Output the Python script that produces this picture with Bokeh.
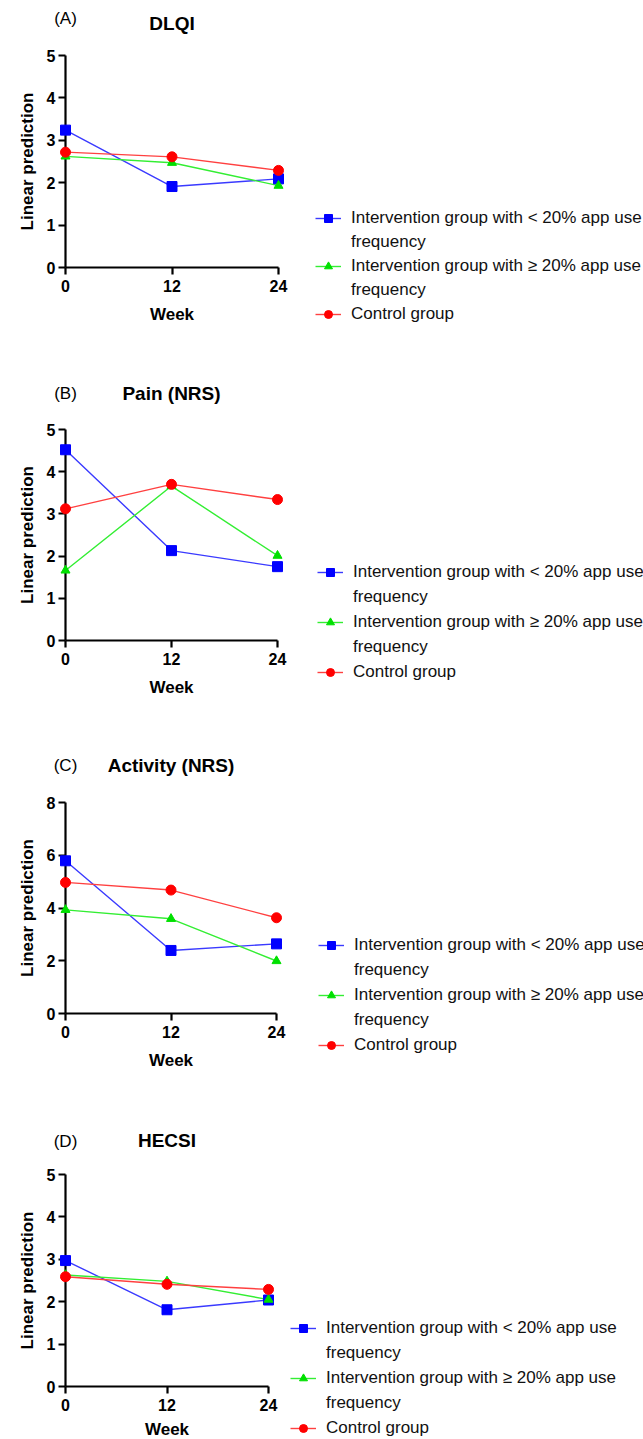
from bokeh.plotting import figure
from bokeh.models import Range1d, FixedTicker, Legend, LegendItem
from bokeh.core.properties import value
from bokeh.layouts import column
from bokeh.embed import file_html
from bokeh.resources import INLINE

weeks = [0, 12, 24]
x_ticks = [0, 12, 24]

series_names = [
    "Intervention group with < 20% app use\nfrequency",
    "Intervention group with \u2265 20% app use\nfrequency",
    "Control group",
]

panel_letters = ["(A)", "(B)", "(C)", "(D)"]
panel_titles = ["DLQI", "Pain (NRS)", "Activity (NRS)", "HECSI"]
y_max = [5, 5, 8, 5]
y_ticks = [[0, 1, 2, 3, 4, 5], [0, 1, 2, 3, 4, 5], [0, 2, 4, 6, 8], [0, 1, 2, 3, 4, 5]]

dlqi_low = [3.24, 1.91, 2.09]
dlqi_high = [2.62, 2.47, 1.93]
dlqi_ctrl = [2.72, 2.61, 2.29]

pain_low = [4.52, 2.13, 1.75]
pain_high = [1.66, 3.66, 2.01]
pain_ctrl = [3.12, 3.70, 3.34]

act_low = [5.79, 2.39, 2.64]
act_high = [3.93, 3.59, 1.99]
act_ctrl = [4.97, 4.68, 3.63]

hecsi_low = [2.97, 1.81, 2.04]
hecsi_high = [2.63, 2.48, 2.05]
hecsi_ctrl = [2.59, 2.41, 2.29]

panel_data = [
    (dlqi_low, dlqi_high, dlqi_ctrl),
    (pain_low, pain_high, pain_ctrl),
    (act_low, act_high, act_ctrl),
    (hecsi_low, hecsi_high, hecsi_ctrl),
]

colors = ["#0000FF", "#00E000", "#FF0000"]
line_colors = ["#3A3AFF", "#33EE33", "#FF4040"]
markers = ["square", "triangle", "circle"]
marker_sizes = [10, 9, 10]

FONT = "Liberation Sans"
FIG_W = 643
LEFT = 65

geom = [
    dict(fw=213, top=55, fh=212, h=340, lx=37, ly=-57, sp=4, toff=(37, 32), xls=10),
    dict(fw=212, top=89, fh=211, h=360, lx=40, ly=-42, sp=5, toff=(36, 36), xls=10),
    dict(fw=211, top=102, fh=211, h=380, lx=42, ly=-42, sp=5, toff=(37, 37), xls=10),
    dict(fw=203, top=94, fh=212, h=359, lx=22, ly=-52, sp=5, toff=(33, 34), xls=6),
]

figs = []
for i in range(4):
    g = geom[i]
    p = figure(
        frame_width=g["fw"], frame_height=g["fh"],
        min_border_left=LEFT, min_border_right=FIG_W - LEFT - g["fw"],
        min_border_top=g["top"], min_border_bottom=g["h"] - g["top"] - g["fh"],
        x_range=Range1d(0, 24), y_range=Range1d(0, y_max[i]),
        output_backend="svg", toolbar_location=None,
    )
    p.outline_line_color = None
    p.grid.visible = False
    p.background_fill_color = "white"
    p.border_fill_color = "white"

    for ax in (p.xaxis[0], p.yaxis[0]):
        ax.axis_line_width = 2.2
        ax.axis_line_color = "black"
        ax.major_tick_line_width = 2.2
        ax.major_tick_line_color = "black"
        ax.major_tick_out = 7
        ax.major_tick_in = 0
        ax.minor_tick_line_color = None
        ax.major_label_text_font = FONT
        ax.major_label_text_font_style = "bold"
        ax.major_label_text_font_size = "16px"
        ax.major_label_text_color = "black"
        ax.axis_label_text_font = FONT
        ax.axis_label_text_font_style = "bold"
        ax.axis_label_text_font_size = "17px"
        ax.axis_label_text_color = "black"
    p.xaxis[0].ticker = FixedTicker(ticks=x_ticks)
    p.yaxis[0].ticker = FixedTicker(ticks=y_ticks[i])
    p.xaxis[0].axis_label = "Week"
    p.yaxis[0].axis_label = "Linear prediction"
    p.xaxis[0].major_label_standoff = 5
    p.yaxis[0].major_label_standoff = 3
    p.xaxis[0].axis_label_standoff = g["xls"]
    p.yaxis[0].axis_label_standoff = 7

    items = []
    for s in range(3):
        ys = panel_data[i][s]
        ln = p.line(weeks, ys, line_color=line_colors[s], line_width=1.4)
        sc = p.scatter(weeks, ys, marker=markers[s], size=marker_sizes[s],
                       fill_color=colors[s], line_color=colors[s], level="overlay")
        lines = series_names[s].split("\n")
        items.append(LegendItem(label=lines[0], renderers=[ln, sc]))
        for extra in lines[1:]:
            items.append(LegendItem(label=extra, renderers=[]))

    legend = Legend(items=items, location=(g["lx"], g["ly"]),
                    label_text_font=FONT, label_text_font_size="17px",
                    label_text_color="#111111",
                    glyph_width=26, glyph_height=20, label_height=20,
                    label_standoff=10, spacing=g["sp"], padding=0, margin=0,
                    border_line_color=None, background_fill_alpha=0)
    p.add_layout(legend, "right")

    p.text(x=[0], y=[y_max[i]], text=[panel_letters[i]], y_offset=-g["toff"][0],
           text_font=value(FONT), text_font_size="17px", text_align="center",
           text_baseline="middle", text_color="black", level="overlay")
    p.text(x=[12], y=[y_max[i]], text=[panel_titles[i]], y_offset=-g["toff"][1],
           text_font=value(FONT), text_font_size="19px", text_font_style="bold",
           text_align="center", text_baseline="middle", text_color="black",
           level="overlay")
    figs.append(p)

layout = column(*figs)
open("out.html", "w").write(file_html(layout, INLINE))
